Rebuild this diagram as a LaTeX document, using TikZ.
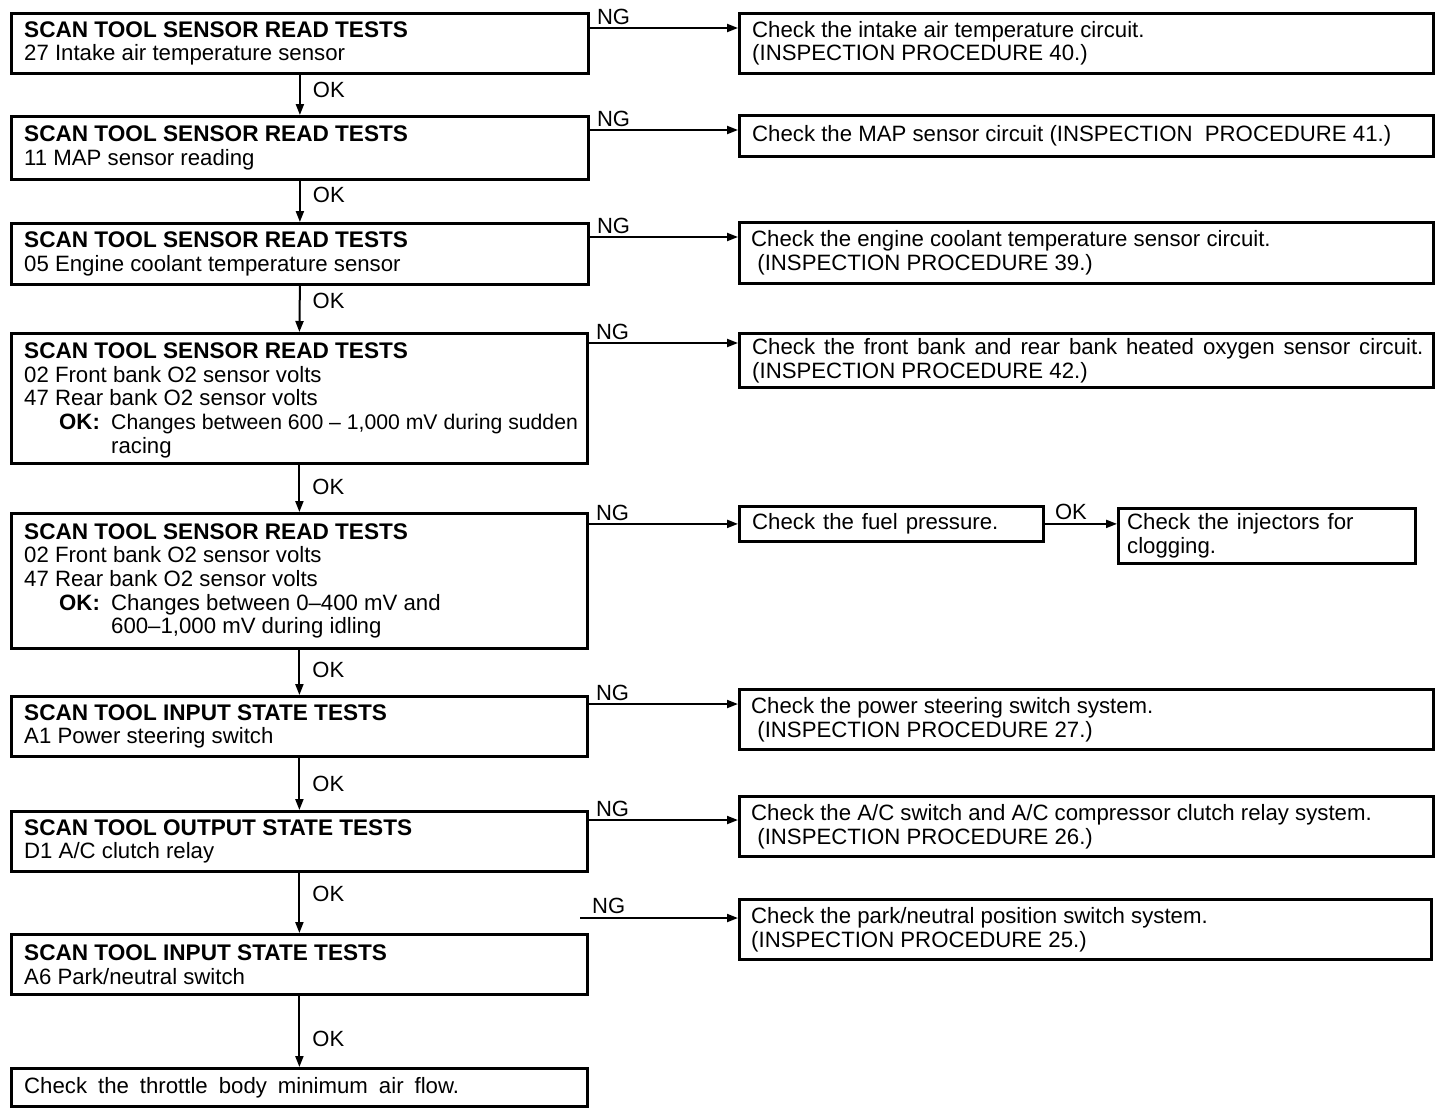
\documentclass[tikz,border=0pt]{standalone}
\usepackage{fontspec}
\setmainfont{Liberation Sans}
\usetikzlibrary{arrows.meta}
\newcommand\hdr[1]{{\fontsize{22.6}{23.7}\selectfont\bfseries #1}}
\begin{document}
\begin{tikzpicture}[x=1pt,y=-1pt,
  box/.style={draw, line width=2.8pt, inner sep=0pt, anchor=north west},
  txt/.style={anchor=west, inner sep=0pt, align=left, font=\fontsize{22.2}{23.7}\selectfont},
  arr/.style={line width=2pt, -{Triangle[length=11pt,width=8pt]}},
  lbl/.style={font=\fontsize{22}{23}\selectfont, inner sep=0pt}]
\useasboundingbox[fill=white] (0,0) rectangle (1440,1112);

% left column boxes
\node[box, minimum width=577pt, minimum height=60pt]  (L1) at (10,12) {};
\node[box, minimum width=577pt, minimum height=63pt]  (L2) at (10,115) {};
\node[box, minimum width=577pt, minimum height=61pt]  (L3) at (10,222) {};
\node[box, minimum width=576pt, minimum height=130pt] (L4) at (10,332) {};
\node[box, minimum width=576pt, minimum height=135pt] (L5) at (10,512) {};
\node[box, minimum width=576pt, minimum height=60pt]  (L6) at (10,695) {};
\node[box, minimum width=576pt, minimum height=60pt]  (L7) at (10,810) {};
\node[box, minimum width=576pt, minimum height=60pt]  (L8) at (10,933) {};
\node[box, minimum width=576pt, minimum height=38pt]  (L9) at (10,1067) {};

\node[txt] (L1t) at ([xshift=14pt]L1.west) {\hdr{SCAN TOOL SENSOR READ TESTS}\\27 Intake air temperature sensor};
\node[txt] (L2t) at ([xshift=14pt]L2.west) {\hdr{SCAN TOOL SENSOR READ TESTS}\\11 MAP sensor reading};
\node[txt] (L3t) at ([xshift=14pt]L3.west) {\hdr{SCAN TOOL SENSOR READ TESTS}\\05 Engine coolant temperature sensor};
\node[txt] (L4t) at ([xshift=14pt,yshift=-2pt]L4.west) {\hdr{SCAN TOOL SENSOR READ TESTS}\\
02 Front bank O2 sensor volts\\
47 Rear bank O2 sensor volts\\
\hspace*{35pt}\makebox[52pt][l]{\bfseries OK:}{\fontsize{21.2}{23.7}\selectfont Changes between 600 – 1,000 mV during sudden}\\
\hspace*{87pt}racing};
\node[txt] (L5t) at ([xshift=14pt]L5.west) {\hdr{SCAN TOOL SENSOR READ TESTS}\\
02 Front bank O2 sensor volts\\
47 Rear bank O2 sensor volts\\
\hspace*{35pt}\makebox[52pt][l]{\bfseries OK:}Changes between 0–400 mV and\\
\hspace*{87pt}600–1,000 mV during idling};
\node[txt] (L6t) at ([xshift=14pt]L6.west) {\hdr{SCAN TOOL INPUT STATE TESTS}\\A1 Power steering switch};
\node[txt] (L7t) at ([xshift=14pt]L7.west) {\hdr{SCAN TOOL OUTPUT STATE TESTS}\\D1 A/C clutch relay};
\node[txt] (L8t) at ([xshift=14pt]L8.west) {\hdr{SCAN TOOL INPUT STATE TESTS}\\A6 Park/neutral switch};
\node[txt] (L9t) at ([xshift=14pt]L9.west) {\spaceskip=11pt plus 2pt Check the throttle body minimum air flow.};

% right column boxes
\node[box, minimum width=694pt, minimum height=60pt] (R1) at (738,12) {};
\node[box, minimum width=694pt, minimum height=41pt] (R2) at (738,114) {};
\node[box, minimum width=694pt, minimum height=61pt] (R3) at (738,221) {};
\node[box, minimum width=694pt, minimum height=54pt] (R4) at (738,332) {};
\node[box, minimum width=304pt, minimum height=35pt] (F)  at (738,505) {};
\node[box, minimum width=297pt, minimum height=55pt] (J)  at (1117,507) {};
\node[box, minimum width=694pt, minimum height=60pt] (R6) at (738,688) {};
\node[box, minimum width=694pt, minimum height=60pt] (R7) at (738,795) {};
\node[box, minimum width=692pt, minimum height=60pt] (R8) at (738,898) {};

\node[txt] (R1t) at ([xshift=14pt]R1.west) {Check the intake air temperature circuit.\\(INSPECTION PROCEDURE 40.)};
\node[txt] (R2t) at ([xshift=14pt]R2.west) {Check the MAP sensor circuit (INSPECTION\ \ PROCEDURE 41.)};
\node[txt] (R3t) at ([xshift=13pt]R3.west) {Check the engine coolant temperature sensor circuit.\\\ (INSPECTION PROCEDURE 39.)};
\node[txt] (R4t) at ([xshift=14pt]R4.west) {\spaceskip=9pt plus 2pt Check the front bank and rear bank heated oxygen sensor circuit.\\(INSPECTION PROCEDURE 42.)};
\node[txt] (Ft)  at ([xshift=14pt]F.west)  {\spaceskip=8pt plus 2pt Check the fuel pressure.};
\node[txt] (Jt)  at ([xshift=10pt]J.west)  {\spaceskip=8pt plus 2pt Check the injectors for\\clogging.};
\node[txt] (R6t) at ([xshift=13pt]R6.west) {Check the power steering switch system.\\\ (INSPECTION PROCEDURE 27.)};
\node[txt] (R7t) at ([xshift=13pt]R7.west) {Check the A/C switch and A/C compressor clutch relay system.\\\ (INSPECTION PROCEDURE 26.)};
\node[txt] (R8t) at ([xshift=13pt]R8.west) {Check the park/neutral position switch system.\\(INSPECTION PROCEDURE 25.)};

% OK arrows (vertical)
\draw[arr] (L1.south) -- node[lbl, pos=0.37, right=12pt] {OK} (L2.north);
\draw[arr] (L2.south) -- node[lbl, pos=0.35, right=12pt] {OK} (L3.north);
\draw[arr] (L3.south) -- node[lbl, pos=0.32, right=12pt] {OK} (L4.north);
\draw[arr] (L4.south) -- node[lbl, pos=0.46, right=12pt] {OK} (L5.north);
\draw[arr] (L5.south) -- node[lbl, pos=0.44, right=12pt] {OK} (L6.north);
\draw[arr] (L6.south) -- node[lbl, pos=0.5, right=12pt] {OK} (L7.north);
\draw[arr] (L7.south) -- node[lbl, pos=0.35, right=12pt] {OK} (L8.north);
\draw[arr] (L8.south) -- node[lbl, pos=0.6, right=12pt] {OK} (L9.north);

% NG arrows
\coordinate (n1) at (0,28);
\coordinate (n2) at (0,130);
\coordinate (n3) at (0,237);
\coordinate (n4) at (0,343);
\coordinate (n6) at (0,704);
\coordinate (n7) at (0,820);
\coordinate (n8) at (580,918);
\draw[arr] (L1.east |- n1) -- (R1.west |- n1);
\draw[arr] (L2.east |- n2) -- (R2.west |- n2);
\draw[arr] (L3.east |- n3) -- (R3.west |- n3);
\draw[arr] (L4.east |- n4) -- (R4.west |- n4);
\draw[arr] (L5.east |- F.west) -- (F.west);
\draw[arr] (L6.east |- n6) -- (R6.west |- n6);
\draw[arr] (L7.east |- n7) -- (R7.west |- n7);
\draw[arr] (n8) -- (R8.west |- n8);
\draw[arr] (F.east) -- (J.west |- F.east);

\node[lbl, anchor=south west] at ([xshift=7pt,yshift=3pt]L1.east |- n1) {NG};
\node[lbl, anchor=south west] at ([xshift=7pt,yshift=3pt]L2.east |- n2) {NG};
\node[lbl, anchor=south west] at ([xshift=7pt,yshift=3pt]L3.east |- n3) {NG};
\node[lbl, anchor=south west] at ([xshift=7pt,yshift=3pt]L4.east |- n4) {NG};
\node[lbl, anchor=south west] at ([xshift=7pt,yshift=3pt]L5.east |- F.west) {NG};
\node[lbl, anchor=south west] at ([xshift=7pt,yshift=3pt]L6.east |- n6) {NG};
\node[lbl, anchor=south west] at ([xshift=7pt,yshift=3pt]L7.east |- n7) {NG};
\node[lbl, anchor=south west] at ([xshift=12pt,yshift=4pt]n8) {NG};
\node[lbl, anchor=south west] at ([xshift=10pt,yshift=4pt]F.east) {OK};
\end{tikzpicture}
\end{document}
